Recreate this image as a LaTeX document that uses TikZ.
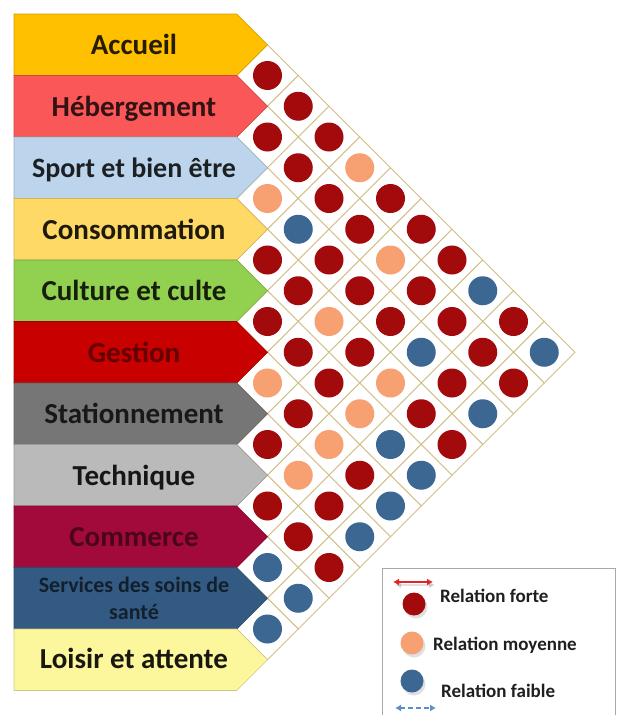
\documentclass[tikz,border=0pt]{standalone}
\usepackage{fontspec}
\setmainfont{Carlito}
\usetikzlibrary{arrows.meta}
\definecolor{relS}{HTML}{A30A0C}
\definecolor{relM}{HTML}{F7A072}
\definecolor{relW}{HTML}{3C6793}
\definecolor{gridc}{HTML}{D2C088}
\definecolor{cAcc}{HTML}{FFC000}
\definecolor{cHeb}{HTML}{FA5858}
\definecolor{cSpo}{HTML}{BDD5EC}
\definecolor{cCon}{HTML}{FFD966}
\definecolor{cCul}{HTML}{92D050}
\definecolor{cGes}{HTML}{C80000}
\definecolor{cSta}{HTML}{767676}
\definecolor{cTec}{HTML}{BABABA}
\definecolor{cCom}{HTML}{A30A3C}
\definecolor{cSer}{HTML}{335A82}
\definecolor{cLoi}{HTML}{FCF69C}
\definecolor{legframe}{HTML}{A8A8A8}
\definecolor{arrR}{HTML}{E32424}
\definecolor{arrB}{HTML}{5A8FCC}
\newcommand\catshape[2]{%
  \pgfmathsetmacro\yt{14+#1*61.5}%
  \fill[#2, draw=#2!82!black, line width=0.6pt] (14,\yt) -- (236.75,\yt) -- (267.5,\yt+30.75) -- (236.75,\yt+61.5) -- (14,\yt+61.5) -- cycle;%
}
\begin{document}
\begin{tikzpicture}[x=1pt,y=-1pt,
  gcell/.style={draw=gridc, line width=0.9pt, fill=white},
  rdot/.style={circle, inner sep=0pt, minimum size=29pt},
  catlabel/.style={font=\bfseries\fontsize{29}{31}\selectfont, anchor=base, inner sep=0pt},
  legtext/.style={font=\bfseries\fontsize{19}{21}\selectfont, anchor=base west, inner sep=0pt, text=black!88},
  legdot/.style={circle, inner sep=0pt, minimum size=23pt},
  dotshadow/.style={legdot, fill=black, opacity=0.12},
  legarrow/.style={line width=1.8pt, {Latex[length=6pt,width=7pt]}-{Latex[length=6pt,width=7pt]}},
]
\useasboundingbox (0,0) rectangle (617,715);
\fill[white] (0,0) rectangle (617,715);

% grid of diamond cells
\foreach \i in {0,...,9}{
  \pgfmathtruncatemacro\jstart{\i+1}
  \foreach \j in {\jstart,...,10}{
    \pgfmathsetmacro\cx{267.5+(\j-\i-1)*30.75}
    \pgfmathsetmacro\cy{14+(\i+\j+1)*30.75}
    \draw[gcell] (\cx-30.75,\cy) -- (\cx,\cy-30.75) -- (\cx+30.75,\cy) -- (\cx,\cy+30.75) -- cycle;
  }
}

% relation dots
\foreach \i/\j/\c in {0/1/S,0/2/S,0/3/S,0/4/M,0/5/S,0/6/S,0/7/S,0/8/W,0/9/S,0/10/W,
  1/2/S,1/3/S,1/4/S,1/5/S,1/6/M,1/7/S,1/8/S,1/9/S,1/10/S,
  2/3/M,2/4/W,2/5/S,2/6/S,2/7/S,2/8/W,2/9/S,2/10/W,
  3/4/S,3/5/S,3/6/M,3/7/S,3/8/M,3/9/S,3/10/S,
  4/5/S,4/6/S,4/7/S,4/8/M,4/9/W,4/10/W,
  5/6/M,5/7/S,5/8/M,5/9/S,5/10/W,
  6/7/S,6/8/M,6/9/S,6/10/W,
  7/8/S,7/9/S,7/10/S,
  8/9/W,8/10/W,
  9/10/W}{
  \pgfmathsetmacro\cx{267.5+(\j-\i-1)*30.75}
  \pgfmathsetmacro\cy{14+(\i+\j+1)*30.75}
  \node[rdot, fill=rel\c] (d\i-\j) at (\cx,\cy) {};
}

% category arrows
\catshape{0}{cAcc}
\catshape{1}{cHeb}
\catshape{2}{cSpo}
\catshape{3}{cCon}
\catshape{4}{cCul}
\catshape{5}{cGes}
\catshape{6}{cSta}
\catshape{7}{cTec}
\catshape{8}{cCom}
\catshape{9}{cSer}
\catshape{10}{cLoi}

\node[catlabel, text=cAcc!15!black] (cat0) at (134,54.5) {Accueil};
\node[catlabel, text=cHeb!20!black] (cat1) at (134,116) {Hébergement};
\node[catlabel, text=cSpo!15!black, font=\bfseries\fontsize{28}{30}\selectfont] (cat2) at (134,177.5) {Sport et bien être};
\node[catlabel, text=cCon!12!black] (cat3) at (134,239) {Consommation};
\node[catlabel, text=cCul!15!black] (cat4) at (134,300.5) {Culture et culte};
\node[catlabel, text=cGes!50!black] (cat5) at (134,362) {Gestion};
\node[catlabel, text=cSta!20!black] (cat6) at (134,423.5) {Stationnement};
\node[catlabel, text=cTec!12!black] (cat7) at (134,485) {Technique};
\node[catlabel, text=cCom!45!black] (cat8) at (134,546.5) {Commerce};
\node[font=\bfseries\fontsize{22}{27}\selectfont, align=center, inner sep=0pt, text=cSer!35!black] (cat9) at (134,598.25) {Services des soins de\\santé};
\node[catlabel, text=cLoi!10!black] (cat10) at (134,668.5) {Loisir et attente};

% legend
\fill[white] (382,568) rectangle (615,716);
\draw[legframe, line width=1pt] (382,716) -- (382,568) -- (615,568) -- (615,716);

\coordinate (fa) at (393,582);
\coordinate (fb) at (433,582);
\draw[legarrow, black, opacity=0.12] ([shift={(2,3)}]fa) -- ([shift={(2,3)}]fb);
\draw[legarrow, arrR] (fa) -- (fb);

\node[dotshadow] (s1) at (416,607) {};
\node[legdot, fill=relS] (l1) at (414,604) {};
\node[dotshadow] (s2) at (414,646) {};
\node[legdot, fill=relM] (l2) at (412,643) {};
\node[dotshadow] (s3) at (414,684) {};
\node[legdot, fill=relW] (l3) at (412,681) {};

\node[legtext] (t1) at (440,602) {Relation forte};
\node[legtext] (t2) at (433,650) {Relation moyenne};
\node[legtext] (t3) at (441,697) {Relation faible};

\coordinate (wa) at (395,708);
\coordinate (wb) at (436,708);
\draw[legarrow, arrB, dash pattern=on 5pt off 3pt] (wa) -- (wb);
\end{tikzpicture}
\end{document}
